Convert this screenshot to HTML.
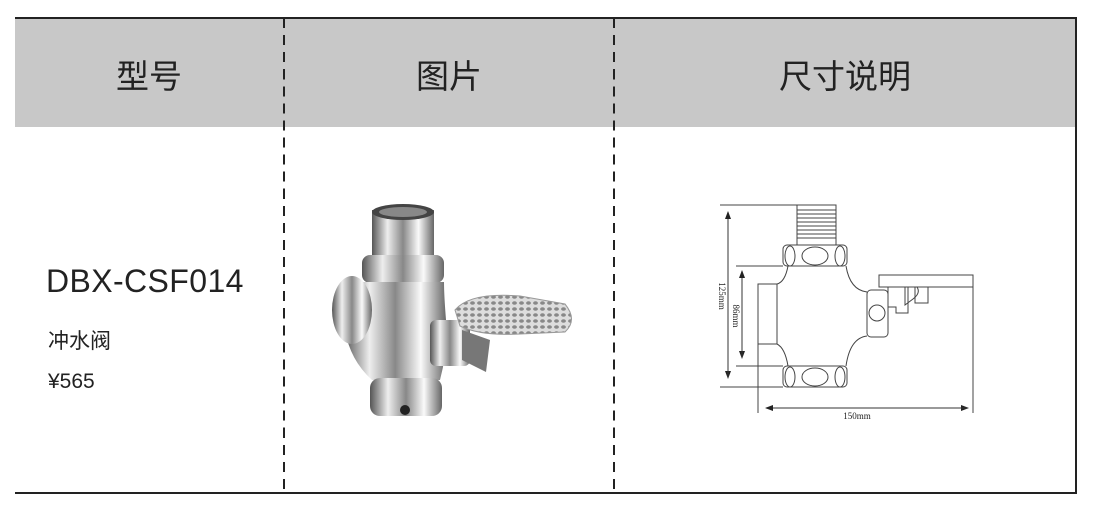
<!DOCTYPE html>
<html><head><meta charset="utf-8"><style>
body{margin:0;width:1094px;height:519px;background:#fff;position:relative;overflow:hidden;font-family:"Liberation Sans","Noto Sans CJK SC",sans-serif;color:#222}
.abs{position:absolute}
</style></head><body>
<div class="abs" style="left:15px;top:18px;width:1062px;height:109px;background:#c8c8c8"></div>
<div class="abs" style="left:15px;top:17px;width:1062px;height:2px;background:#222"></div>
<div class="abs" style="left:15px;top:492px;width:1062px;height:2px;background:#222"></div>
<div class="abs" style="left:1075px;top:17px;width:2px;height:477px;background:#222"></div>
<div class="abs" style="left:283px;top:19px;width:0;height:473px;border-left:2px dashed #222;border-image:repeating-linear-gradient(#222 0 10px,transparent 10px 17px) 1"></div>
<div class="abs" style="left:613px;top:19px;width:0;height:473px;border-left:2px dashed #222;border-image:repeating-linear-gradient(#222 0 10px,transparent 10px 17px) 1"></div>
<div class="abs" style="left:15px;width:268px;top:50px;text-align:center;font-size:33px">型号</div>
<div class="abs" style="left:285px;width:328px;top:50px;text-align:center;font-size:33px">图片</div>
<div class="abs" style="left:615px;width:460px;top:50px;text-align:center;font-size:33px">尺寸说明</div>
<div class="abs" style="left:46px;top:263px;font-size:32px;letter-spacing:0.4px">DBX-CSF014</div>
<div class="abs" style="left:48px;top:325px;font-size:21px">冲水阀</div>
<div class="abs" style="left:48px;top:370px;font-size:21px">¥565</div>
<svg class="abs" style="left:0;top:0" width="1094" height="519">
<defs>
<linearGradient id="ch" x1="0" x2="1"><stop offset="0" stop-color="#555"/><stop offset=".25" stop-color="#eee"/><stop offset=".5" stop-color="#888"/><stop offset=".75" stop-color="#fafafa"/><stop offset="1" stop-color="#666"/></linearGradient>
<pattern id="dots" width="7" height="6" patternUnits="userSpaceOnUse"><rect width="7" height="6" fill="#ddd"/><ellipse cx="3.5" cy="3" rx="2.4" ry="1.8" fill="#888"/></pattern>
<marker id="ar" markerWidth="8" markerHeight="8" refX="7" refY="4" orient="auto"><path d="M0,1 L8,4 L0,7z" fill="#222"/></marker>
</defs>
<rect x="372" y="210" width="62" height="48" fill="url(#ch)"/>
<ellipse cx="403" cy="212" rx="31" ry="8" fill="#444"/>
<ellipse cx="403" cy="212" rx="24" ry="5" fill="#888"/>
<rect x="362" y="255" width="82" height="28" rx="8" fill="url(#ch)"/>
<path d="M360 282 Q340 300 345 330 Q350 360 372 380 L440 380 Q448 350 446 320 Q444 295 444 282z" fill="url(#ch)"/>
<ellipse cx="352" cy="310" rx="20" ry="34" fill="url(#ch)"/>
<rect x="370" y="378" width="72" height="38" rx="10" fill="url(#ch)"/>
<circle cx="405" cy="410" r="5" fill="#222"/>
<rect x="430" y="320" width="40" height="46" rx="6" fill="url(#ch)"/>
<path d="M462 330 L490 340 L486 372 L462 360z" fill="#777"/>
<path d="M455 310 Q470 292 520 296 L565 304 Q578 320 565 332 L520 334 Q480 336 460 326z" fill="url(#dots)" stroke="#999"/>
<g fill="none" stroke="#444" stroke-width="1">
<rect x="797" y="205" width="39" height="40"/>
<path d="M797 210h39M797 214h39M797 218h39M797 222h39M797 226h39M797 230h39M797 234h39M797 238h39"/>
<rect x="783" y="245" width="64" height="21" rx="4"/>
<ellipse cx="815" cy="256" rx="13" ry="9"/><ellipse cx="790" cy="256" rx="5" ry="10"/><ellipse cx="840" cy="256" rx="5" ry="10"/>
<path d="M788 266 Q785 282 777 284 M777 344 Q785 348 788 366 M846 266 Q850 290 867 292 M867 336 Q850 338 846 366"/>
<rect x="758" y="284" width="19" height="60"/>
<rect x="783" y="366" width="64" height="21" rx="4"/>
<ellipse cx="815" cy="377" rx="13" ry="9"/><ellipse cx="790" cy="377" rx="5" ry="10"/><ellipse cx="840" cy="377" rx="5" ry="10"/>
<rect x="867" y="290" width="21" height="47" rx="4"/>
<circle cx="877" cy="313" r="8"/>
<rect x="879" y="275" width="94" height="12"/>
<path d="M888 287 v20 h8 v6 h12 v-26 M905 287 v18 l8 -6 q8 -6 4 -12 M915 287 v16 h13 v-16"/>
<path d="M720 205h77M720 387h63M736 266h47M736 366h47M758 344v69M973 287v126"/>
</g>
<g stroke="#333" stroke-width="1">
<line x1="728" y1="214" x2="728" y2="378" marker-end="url(#ar)"/><line x1="728" y1="378" x2="728" y2="212" marker-end="url(#ar)"/>
<line x1="742" y1="273" x2="742" y2="358" marker-end="url(#ar)"/><line x1="742" y1="358" x2="742" y2="271" marker-end="url(#ar)"/>
<line x1="770" y1="408" x2="968" y2="408" marker-end="url(#ar)"/><line x1="968" y1="408" x2="766" y2="408" marker-end="url(#ar)"/>
</g>
<text x="857" y="419" font-size="9" text-anchor="middle" fill="#222" font-family="Liberation Serif">150mm</text>
<text transform="translate(719,296) rotate(90)" font-size="9" text-anchor="middle" fill="#222" font-family="Liberation Serif">125mm</text>
<text transform="translate(733,316) rotate(90)" font-size="9" text-anchor="middle" fill="#222" font-family="Liberation Serif">86mm</text>
</svg>
</body></html>
